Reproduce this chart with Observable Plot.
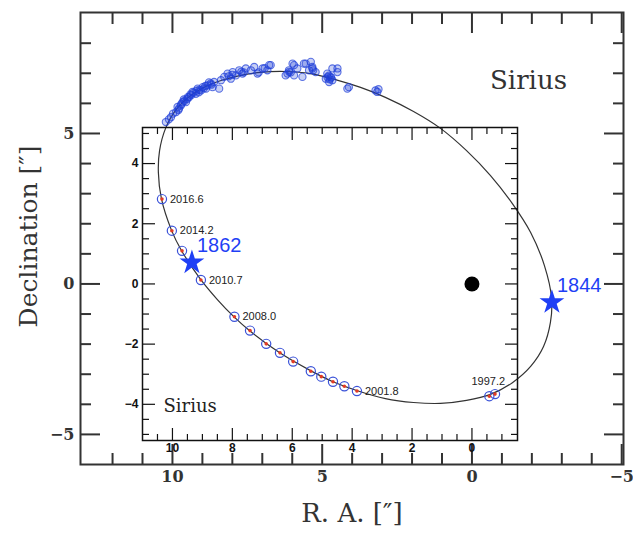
<!DOCTYPE html>
<html><head><meta charset="utf-8">
<script src="https://cdn.jsdelivr.net/npm/d3@7"></script>
<script src="https://cdn.jsdelivr.net/npm/@observablehq/plot@0.6"></script>
<style>
body{margin:0;background:#fff;}
#wrap{position:relative;width:633px;height:536px;overflow:hidden;background:#fff;}
#wrap svg{position:absolute;}
</style></head><body><div id="wrap"></div>
<script>
// Orbit of Sirius B relative to Sirius A, arcsec
const orbitRA  = [10.47,10.43,10.23,9.87,9.33,8.66,7.90,7.06,6.23,5.39,4.56,3.72,2.89,1.95,1.05,0.18,-0.62,-1.35,-1.96,-2.42,-2.66,-2.62,-2.39,-1.96,-1.35,-0.62,0.18,1.05,1.95,2.89,3.85,4.66,5.39,6.43,7.43,7.96,8.50,9.06,9.70,10.03,10.37];
const orbitDec = [3.70,4.43,5.17,5.80,6.30,6.66,6.89,7.03,7.06,6.99,6.79,6.53,6.20,5.73,5.17,4.43,3.60,2.67,1.71,0.61,-0.48,-1.28,-2.08,-2.74,-3.28,-3.67,-3.87,-3.97,-3.94,-3.81,-3.54,-3.24,-2.88,-2.28,-1.55,-1.08,-0.52,0.15,1.11,1.78,2.84];

// Historical measurements (blue open circles)
const histRA  = [10.22,10.12,10.05,9.98,9.88,9.83,9.80,9.78,9.72,9.70,9.66,9.62,9.60,9.55,9.50,9.49,9.45,9.40,9.38,9.33,9.30,9.22,9.20,9.16,9.12,9.10,9.05,8.99,8.95,8.90,8.88,8.83,8.78,8.72,8.70,8.66,8.61,8.44,8.38,8.27,8.16,8.12,8.05,8.00,7.99,7.88,7.77,7.70,7.66,7.62,7.55,7.38,7.27,7.16,7.12,6.99,6.92,6.83,6.77,6.72,6.22,6.16,6.11,6.10,6.05,5.99,5.94,5.94,5.83,5.66,5.61,5.55,5.44,5.38,5.33,5.33,5.30,5.22,4.88,4.83,4.82,4.78,4.77,4.75,4.72,4.70,4.66,4.66,4.49,4.49,4.16,4.11,3.22,3.16,3.12];
const histDec = [5.38,5.47,5.54,5.66,5.71,5.88,5.78,5.83,5.93,5.98,6.04,6.13,6.08,6.04,6.15,6.21,6.20,6.30,6.27,6.38,6.35,6.32,6.42,6.49,6.37,6.45,6.43,6.54,6.50,6.58,6.49,6.60,6.70,6.66,6.62,6.54,6.71,6.49,6.77,6.88,6.99,6.90,6.82,6.95,7.04,6.93,7.10,7.05,6.99,7.03,7.16,7.10,7.21,6.99,7.03,7.16,7.17,7.10,7.27,7.27,6.93,6.99,7.10,7.05,7.03,7.32,7.27,6.93,7.16,6.88,7.32,7.32,7.10,7.38,7.21,7.16,7.10,7.04,6.82,6.99,6.87,6.92,6.71,6.80,6.88,6.85,6.77,7.16,7.04,7.16,6.49,6.54,6.43,6.38,6.47];

// Recent measurements (inset)
const recentRA    = [10.35,10.02,9.68,9.05,7.93,7.41,6.87,6.41,5.97,5.38,5.03,4.64,4.26,3.84,-0.58,-0.77];
const recentDec   = [2.82,1.77,1.10,0.13,-1.09,-1.55,-1.99,-2.29,-2.58,-2.90,-3.08,-3.25,-3.40,-3.56,-3.73,-3.66];
const recentEpoch = ["2016.6","2014.2","","2010.7","2008.0","","","","","","","","","2001.8","1997.2",""];

// Marked epochs (stars)
const starYear = ["1862","1844"];
const starRA   = [9.35,-2.67];
const starDec  = [0.71,-0.61];

// Sirius A
const primaryRA = [0], primaryDec = [0];

// Ticks
const outerMajorX = [10,5,0,-5];
const outerMinorX = [12,11,9,8,7,6,4,3,2,1,-1,-2,-3,-4];
const outerMajorY = [5,0,-5];
const outerMinorY = [8,7,6,4,3,2,1,-1,-2,-3,-4];
const innerMajorX = [10,8,6,4,2,0];
const innerMinorX = [10.5,9.5,9,8.5,7.5,7,6.5,5.5,5,4.5,3.5,3,2.5,1.5,1,0.5,-0.5,-1];
const innerMajorY = [4,2,0,-2,-4];
const innerMinorY = [5,4.5,3.5,3,2.5,1.5,1,0.5,-0.5,-1,-1.5,-2.5,-3,-3.5,-4.5,-5];

const orbit  = orbitRA.map((x,i)=>({x, y: orbitDec[i]}));
const hist   = histRA.map((x,i)=>({x, y: histDec[i]}));
const recent = recentRA.map((x,i)=>({x, y: recentDec[i], label: recentEpoch[i]}));
const stars  = starYear.map((t,i)=>({t, x: starRA[i], y: starDec[i]}));
const primary = primaryRA.map((x,i)=>({x, y: primaryDec[i]}));

const BLUE = "#1f3ff5";
const oTick = {stroke:"#333", strokeWidth:2, fill:"none", label:null};
const oText = {tickSize:0, fontFamily:"DejaVu Serif", fontWeight:"bold", fontSize:16, fill:"#333", label:null};
const serif = {fontFamily:"DejaVu Serif", fill:"#333", textAnchor:"middle", lineAnchor:"middle"};

const outer = Plot.plot({
  width:633, height:536, marginLeft:80, marginRight:10, marginTop:12, marginBottom:72,
  x:{domain:[13.07,-5.06]}, y:{domain:[-6,9.02]},
  style:{background:"transparent", overflow:"visible"},
  marks:[
    Plot.axisX(outerMajorX,{anchor:"bottom", tickSize:-20, ...oTick}),
    Plot.axisX(outerMajorX,{anchor:"top", tickSize:-20, ...oTick}),
    Plot.axisX(outerMinorX,{anchor:"bottom", tickSize:-11, ...oTick}),
    Plot.axisX(outerMinorX,{anchor:"top", tickSize:-11, ...oTick}),
    Plot.axisY(outerMajorY,{anchor:"left", tickSize:-20, ...oTick}),
    Plot.axisY(outerMajorY,{anchor:"right", tickSize:-20, ...oTick}),
    Plot.axisY(outerMinorY,{anchor:"left", tickSize:-11, ...oTick}),
    Plot.axisY(outerMinorY,{anchor:"right", tickSize:-11, ...oTick}),
    Plot.axisX(outerMajorX,{anchor:"bottom", tickPadding:6, ...oText}),
    Plot.axisY(outerMajorY,{anchor:"left", tickPadding:6, ...oText}),
    Plot.frame({stroke:"#333", strokeWidth:2}),
    Plot.text(["R. A. [″]"],{frameAnchor:"bottom", dy:49, fontSize:26, ...serif}),
    Plot.text(["Declination [″]"],{frameAnchor:"left", dx:-52, dy:-2, rotate:-90, fontSize:25, ...serif}),
    Plot.text(["Sirius"],{frameAnchor:"top-right", dx:-95, dy:68, fontSize:26, ...serif}),
    Plot.line(orbit,{x:"x", y:"y", curve:"catmull-rom-closed", stroke:"#333", strokeWidth:1.2}),
    Plot.dot(hist,{x:"x", y:"y", r:3.6, stroke:"#1f3fd8", strokeOpacity:0.7, strokeWidth:1.1, fill:"#1f3fd8", fillOpacity:0.25}),
    Plot.dot(stars,{x:"x", y:"y", symbol:"star", r:7.8, fill:BLUE, stroke:"none"}),
    Plot.text(stars,{x:"x", y:"y", text:"t", textAnchor:"start", dx:5, dy:-17, fontFamily:"Liberation Sans", fontSize:20, fill:BLUE})
  ]
});
outer.style.left = "0px"; outer.style.top = "0px";
document.getElementById("wrap").appendChild(outer);

const xo = outer.scale("x"), yo = outer.scale("y");
const iTick = {stroke:"#111", strokeWidth:1.2, fill:"none", label:null};
const iText = {tickSize:0, fontFamily:"Liberation Sans", fontWeight:"bold", fontSize:12, fill:"#111", label:null};
const inner = Plot.plot({
  width:407, height:340, marginLeft:30, marginRight:2, marginTop:2, marginBottom:25,
  x:{domain:[xo.invert(142), xo.invert(517)]}, y:{domain:[yo.invert(440), yo.invert(127)]},
  style:{background:"transparent", overflow:"visible"},
  marks:[
    Plot.axisX(innerMajorX,{anchor:"bottom", tickSize:-12, ...iTick}),
    Plot.axisX(innerMajorX,{anchor:"top", tickSize:-12, ...iTick}),
    Plot.axisX(innerMinorX,{anchor:"bottom", tickSize:-6, ...iTick}),
    Plot.axisX(innerMinorX,{anchor:"top", tickSize:-6, ...iTick}),
    Plot.axisY(innerMajorY,{anchor:"left", tickSize:-13, ...iTick}),
    Plot.axisY(innerMajorY,{anchor:"right", tickSize:-13, ...iTick}),
    Plot.axisY(innerMinorY,{anchor:"left", tickSize:-7, ...iTick}),
    Plot.axisY(innerMinorY,{anchor:"right", tickSize:-7, ...iTick}),
    Plot.axisX(innerMajorX,{anchor:"bottom", tickPadding:3, ...iText}),
    Plot.axisY(innerMajorY,{anchor:"left", tickPadding:4, ...iText}),
    Plot.frame({stroke:"#111", strokeWidth:1.5}),
    Plot.text(["Sirius"],{frameAnchor:"bottom-left", dx:21, dy:-34, textAnchor:"start", lineAnchor:"middle", fontFamily:"DejaVu Serif", fontSize:18, fill:"#222"}),
    Plot.dot(primary,{x:"x", y:"y", r:7.5, fill:"#000"}),
    Plot.dot(recent,{x:"x", y:"y", r:4.6, stroke:"#3a52d8", strokeWidth:1.2, fill:"none"}),
    Plot.dot(recent,{x:"x", y:"y", r:1.8, fill:"#e23b24", stroke:"none"}),
    Plot.text(recent,{filter:d=>d.label && d.label!=="1997.2", x:"x", y:"y", text:"label", textAnchor:"start", dx:8, fontFamily:"Liberation Sans", fontSize:11, fill:"#222"}),
    Plot.text(recent,{filter:d=>d.label==="1997.2", x:"x", y:"y", text:"label", dx:-1, dy:-15, fontFamily:"Liberation Sans", fontSize:11, fill:"#222"})
  ]
});
inner.style.left = "112px"; inner.style.top = "125px";
document.getElementById("wrap").appendChild(inner);
</script>
</body></html>
